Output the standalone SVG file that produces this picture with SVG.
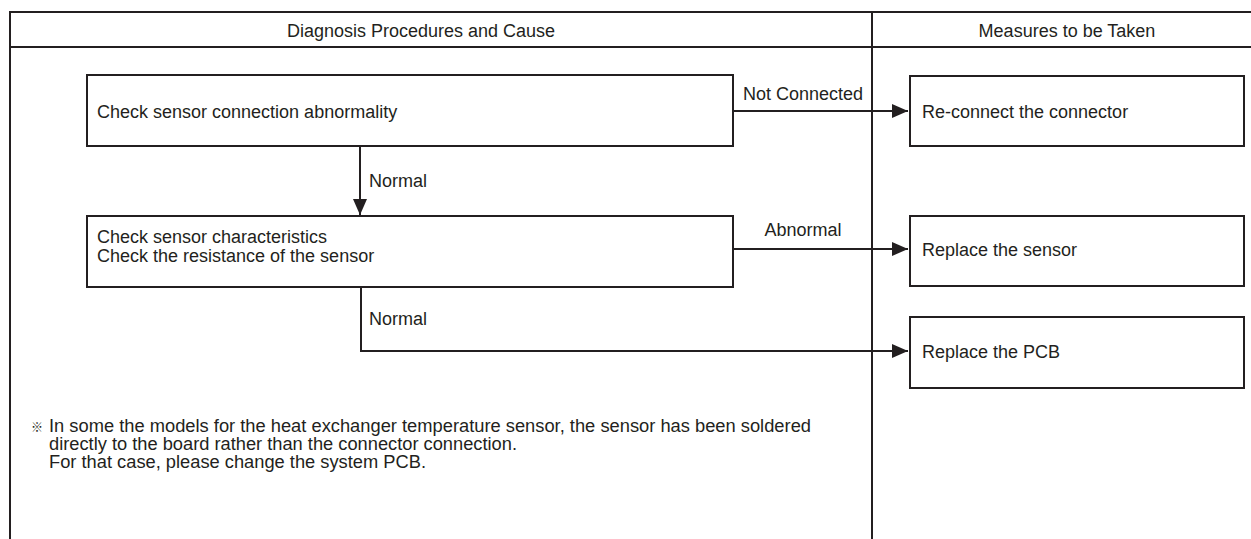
<svg xmlns="http://www.w3.org/2000/svg" width="1251" height="539" viewBox="0 0 1251 539">
<style>
.ln{stroke:#231f20;stroke-width:2;fill:none}
.bx{stroke:#231f20;stroke-width:2;fill:#fff}
.t{font-family:"Liberation Sans",Arial,sans-serif;font-size:18px;fill:#231f20}
.n{font-size:17.5px}
.mid{text-anchor:middle}
.ref{font-family:"Noto Sans CJK JP","DejaVu Sans",sans-serif;font-size:12px;fill:#231f20}
</style>
<defs>
<marker id="arr" markerUnits="userSpaceOnUse" markerWidth="18" markerHeight="18" viewBox="0 0 18 18" refX="17" refY="9" orient="auto">
<path d="M1,2 L17,9 L1,16 Z" fill="#231f20"/>
</marker>
</defs>
<rect width="1251" height="539" fill="#fff"/>
<g id="frame">
<line class="ln" x1="10" y1="12" x2="1251" y2="12"/>
<line class="ln" x1="10" y1="47" x2="1251" y2="47"/>
<line class="ln" x1="10" y1="11" x2="10" y2="539"/>
<line class="ln" x1="872" y1="11" x2="872" y2="539"/>
<text class="t mid" x="421" y="37">Diagnosis Procedures and Cause</text>
<text class="t mid" x="1067" y="37">Measures to be Taken</text>
</g>
<g id="connectors">
<line class="ln" x1="733" y1="111" x2="908" y2="111" marker-end="url(#arr)"/>
<line class="ln" x1="360" y1="146" x2="360" y2="215" marker-end="url(#arr)"/>
<line class="ln" x1="733" y1="249" x2="908" y2="249" marker-end="url(#arr)"/>
<polyline class="ln" points="361,286 361,351 908,351" marker-end="url(#arr)"/>
<text class="t mid" x="803" y="100">Not Connected</text>
<text class="t" x="369" y="187">Normal</text>
<text class="t mid" x="803" y="236">Abnormal</text>
<text class="t" x="369" y="325">Normal</text>
</g>
<g id="check-connection">
<rect class="bx" x="87" y="75" width="646" height="71"/>
<text class="t" x="97" y="118">Check sensor connection abnormality</text>
</g>
<g id="check-characteristics">
<rect class="bx" x="87" y="216" width="646" height="71"/>
<text class="t" x="97" y="243">Check sensor characteristics</text>
<text class="t" x="97" y="262">Check the resistance of the sensor</text>
</g>
<g id="reconnect">
<rect class="bx" x="910" y="76" width="334" height="70"/>
<text class="t" x="922" y="118">Re-connect the connector</text>
</g>
<g id="replace-sensor">
<rect class="bx" x="910" y="216" width="334" height="70"/>
<text class="t" x="922" y="256">Replace the sensor</text>
</g>
<g id="replace-pcb">
<rect class="bx" x="910" y="317" width="334" height="71"/>
<text class="t" x="922" y="358">Replace the PCB</text>
</g>
<g id="note">
<text class="ref" x="31" y="432">※</text>
<text class="t n" x="49" y="432" textLength="762" lengthAdjust="spacingAndGlyphs">In some the models for the heat exchanger temperature sensor, the sensor has been soldered</text>
<text class="t n" x="49" y="450" textLength="468" lengthAdjust="spacingAndGlyphs">directly to the board rather than the connector connection.</text>
<text class="t n" x="49" y="468" textLength="377" lengthAdjust="spacingAndGlyphs">For that case, please change the system PCB.</text>
</g>
</svg>
